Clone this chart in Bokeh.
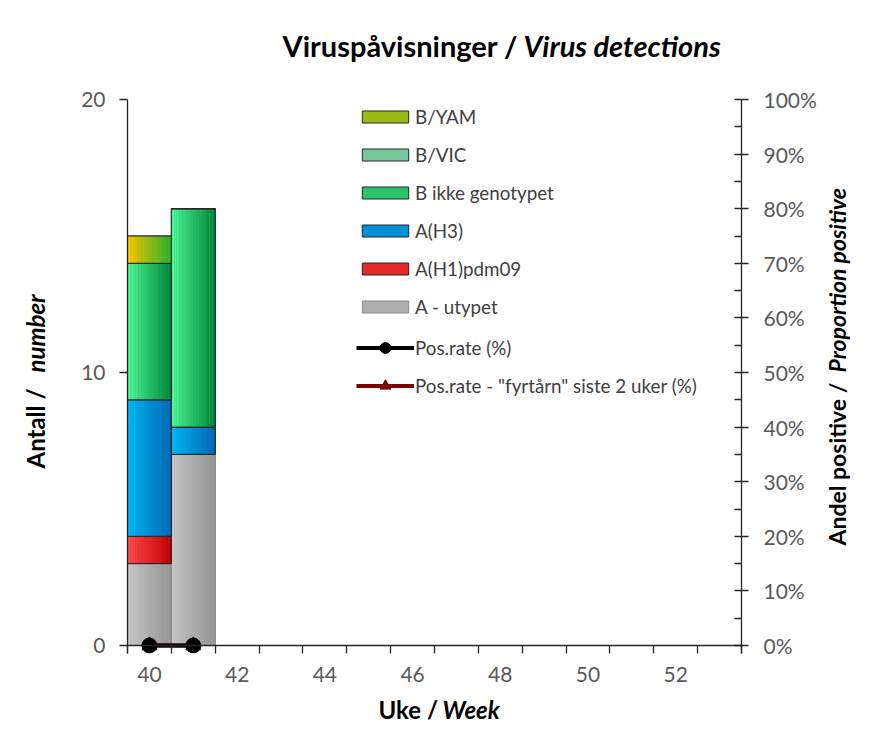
import numpy as np
from bokeh.plotting import figure
from bokeh.models import (ColumnDataSource, Range1d, LinearAxis, FixedTicker, Legend,
                          LegendItem, Label, PrintfTickFormatter, Span)
from bokeh.embed import file_html
from bokeh.resources import INLINE

# ---------------- data ----------------
weeks = [40, 41]
a_utypet = [3, 7]
a_h1pdm09 = [1, 0]
a_h3 = [5, 1]
b_ikke_genotypet = [5, 8]
b_vic = [0, 0]
b_yam = [1, 0]
pos_rate = [0, 0]
pos_rate_fyrtarn = [0, 0]

series_names = ["A - utypet", "A(H1)pdm09", "A(H3)", "B ikke genotypet", "B/VIC", "B/YAM"]
x_label_ticks = [40, 42, 44, 46, 48, 50, 52]
x_week_edges = [39.5 + i for i in range(15)]
left_ticks = [0, 10, 20]
right_ticks = [0, 10, 20, 30, 40, 50, 60, 70, 80, 90, 100]
right_minor = [5, 15, 25, 35, 45, 55, 65, 75, 85, 95]

# ---------------- styles ----------------
grad = {
    "A - utypet": ("#c4c4c4", "#959595", "#8a8a8a"),
    "A(H1)pdm09": ("#ff4a4a", "#c00000", "#262626"),
    "A(H3)": ("#00b4f2", "#0068b4", "#262626"),
    "B ikke genotypet": ("#4df594", "#00853a", "#262626"),
    "B/VIC": ("#bfe4f6", "#25a22c", "#262626"),
    "B/YAM": ("#fac300", "#25b22c", "#262626"),
}
FONT = "Lato"
AX = "#262626"
TXT = "#595959"


def hx(c):
    c = c.lstrip("#")
    return np.array([int(c[i:i + 2], 16) for i in (0, 2, 4)], float)


def mix(c0, c1, f):
    r = hx(c0) * (1 - f) + hx(c1) * f
    return "#%02x%02x%02x" % tuple(int(round(v)) for v in r)


YMIN = -8 / 27.3
p = figure(width=877, height=756, x_range=Range1d(39.5, 53.5), y_range=Range1d(YMIN, 20),
           output_backend="svg", toolbar_location=None,
           min_border_left=127, min_border_right=136, min_border_top=99, min_border_bottom=103)
p.extra_y_ranges = {"pct": Range1d(YMIN / 20 * 100, 100)}
p.xgrid.visible = False
p.ygrid.visible = False
p.outline_line_color = None
p.background_fill_color = "white"
p.border_fill_color = "white"

# ---------------- stacked bars with horizontal gradient ----------------
N = 16
stack = [a_utypet, a_h1pdm09, a_h3, b_ikke_genotypet, b_vic, b_yam]
bottoms = np.zeros(len(weeks))
legend_bar = {}
wk = np.array(weeks, float)
for name, vals in zip(series_names, stack):
    c0, c1, oc = grad[name]
    vals = np.array(vals, float)
    tops = bottoms + vals
    mask = vals > 0
    legend_bar[name] = p.vbar(x=wk, bottom=bottoms, top=tops, width=1,
                              fill_color=mix(c0, c1, 0.45), line_color=oc, line_width=1)
    xs, bs, ts, cs = [], [], [], []
    for w, b, t in zip(wk[mask], bottoms[mask], tops[mask]):
        for i in range(N):
            xs.append(w - 0.5 + (i + 0.5) / N)
            bs.append(b)
            ts.append(t)
            cs.append(mix(c0, c1, i / (N - 1)))
    src = ColumnDataSource(dict(x=xs, bottom=bs, top=ts, color=cs))
    p.vbar(x="x", bottom="bottom", top="top", width=1.0 / N, source=src,
           fill_color="color", line_color=None)
    p.vbar(x=wk[mask], bottom=bottoms[mask], top=tops[mask], width=1,
           fill_alpha=0, line_color=oc, line_width=1)
    bottoms = tops

p.add_layout(Span(location=0, dimension="width", line_color=AX, line_width=1.3))

# ---------------- positivity lines ----------------
red_l = p.line(weeks, pos_rate_fyrtarn, y_range_name="pct", line_color="#7a0000", line_width=4)
red_m = p.scatter(weeks, pos_rate_fyrtarn, y_range_name="pct", marker="triangle", size=15,
                  fill_color="#7a0000", line_color="#7a0000")
blk_l = p.line(weeks, pos_rate, y_range_name="pct", line_color="black", line_width=4)
blk_m = p.scatter(weeks, pos_rate, y_range_name="pct", marker="circle", size=15,
                  fill_color="black", line_color="black")

# ---------------- axes ----------------
xa = p.xaxis[0]
xa.ticker = FixedTicker(ticks=x_label_ticks, minor_ticks=x_week_edges)
xa.axis_line_color = None
xa.major_tick_in = 0
xa.major_tick_out = 0
xa.minor_tick_in = 8
xa.minor_tick_out = 0
xa.major_label_standoff = 13

ya = p.yaxis[0]
ya.ticker = FixedTicker(ticks=left_ticks, minor_ticks=[])
ya.major_tick_in = 0
ya.major_tick_out = 8
ya.major_label_standoff = 14

ra = LinearAxis(y_range_name="pct", ticker=FixedTicker(ticks=right_ticks, minor_ticks=right_minor),
                formatter=PrintfTickFormatter(format="%d%%"))
ra.major_tick_in = 7
ra.major_tick_out = 7
ra.minor_tick_in = 7
ra.minor_tick_out = 0
ra.major_label_standoff = 15
p.add_layout(ra, "right")

for ax in (xa, ya, ra):
    if ax is not xa:
        ax.axis_line_color = AX
    ax.axis_line_width = 1.3
    ax.major_tick_line_color = AX
    ax.minor_tick_line_color = AX
    ax.major_tick_line_width = 1.3
    ax.minor_tick_line_width = 1.3
    ax.major_label_text_font = FONT
    ax.major_label_text_font_size = "21px"
    ax.major_label_text_color = TXT

# ---------------- legends ----------------
common = dict(padding=0, margin=0, glyph_width=58, label_standoff=1,
              border_line_color=None, background_fill_alpha=0,
              label_text_font=FONT, label_text_font_size="18.8px", label_text_color="#404040")
items1 = [LegendItem(label=n, renderers=[legend_bar[n]]) for n in
          ["B/YAM", "B/VIC", "B ikke genotypet", "A(H3)", "A(H1)pdm09", "A - utypet"]]
leg1 = Legend(items=items1, location=(229, 335), spacing=15, glyph_height=15, label_height=22,
              **common)
items2 = [LegendItem(label="Pos.rate (%)", renderers=[blk_l, blk_m]),
          LegendItem(label='Pos.rate - "fyrtårn" siste 2 uker (%)', renderers=[red_l, red_m])]
leg2 = Legend(items=items2, location=(229, 254), spacing=11, glyph_height=27, label_height=22,
              **common)
p.add_layout(leg1, "center")
p.add_layout(leg2, "center")


# ---------------- titles (mixed upright / italic), placed in side panels ----------------
def lab(side, x, y, text, style, angle=0.0, size="24px"):
    p.add_layout(Label(x=x, y=y, x_units="screen", y_units="screen", text=text, angle=angle,
                       text_font=FONT, text_font_size=size, text_font_style=style,
                       text_align="left", text_baseline="middle", text_color="black"), side)


ROT = float(np.pi / 2)
lab("above", 155, 54, "Viruspåvisninger /", "bold", size="29px")
lab("above", 396, 19, "Virus detections", "bold italic", size="29px")
lab("below", 251, 4, "Uke /", "bold")
lab("below", 315, 33, "Week", "bold italic")
lab("left", -14, 185, "Antall /", "bold", angle=ROT)
lab("left", 15, 281, "number", "bold italic", angle=ROT)
lab("right", 17, 108, "Andel positive /", "bold", angle=ROT, size="23px")
lab("right", -11, 281, "Proportion positive", "bold italic", angle=ROT, size="23px")

open("out.html", "w").write(file_html(p, INLINE))
